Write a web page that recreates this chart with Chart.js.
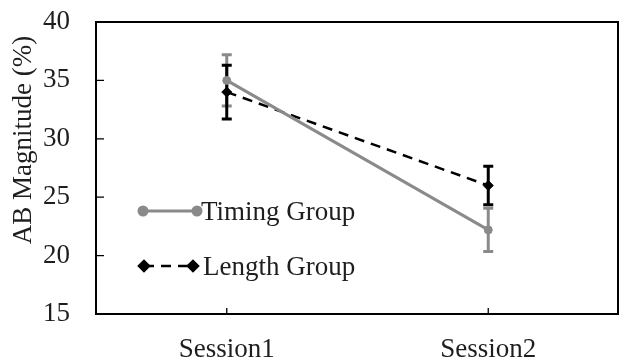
<!DOCTYPE html>
<html>
<head>
<meta charset="utf-8">
<script src="https://cdn.jsdelivr.net/npm/chart.js@4.4.0/dist/chart.umd.min.js"></script>
<style>
  html, body { margin: 0; padding: 0; background: #fff; overflow: hidden; }
  #wrap { width: 619px; height: 361px; position: relative; }
  #c { display: block; }
</style>
</head>
<body>
<div id="wrap"><canvas id="c"></canvas></div>
<script>
// Mean AB magnitude per session with error-bar half-lengths
const sessions = ['Session1', 'Session2'];
const timingMean = [35.0, 22.2];
const timingErr = [2.2, 1.85];
const lengthMean = [34.0, 26.0];
const lengthErr = [2.3, 1.65];
const yTicks = [15, 20, 25, 30, 35, 40];
const seriesNames = ['Timing Group', 'Length Group'];
const axisTitle = 'AB Magnitude (%)';

const FONT = { family: "'Liberation Serif', 'Times New Roman', serif", size: 27 };
const TEXT = '#1e1e1e';
const GRAY = '#8a8a8a';
const BLACK = '#000000';

// Keep the plot area exactly where the layout padding puts it
function noScalePadding(s) {
  s.paddingTop = 0; s.paddingBottom = 0; s.paddingLeft = 0; s.paddingRight = 0;
}

// Vertical error bars with caps, drawn beneath the lines and markers
const errorBars = {
  id: 'errorBars',
  beforeDatasetsDraw(chart) {
    const ctx = chart.ctx;
    const ys = chart.scales.y;
    chart.data.datasets.forEach((ds, di) => {
      const meta = chart.getDatasetMeta(di);
      ctx.save();
      ctx.strokeStyle = ds.borderColor;
      ctx.lineWidth = 3;
      ctx.setLineDash([]);
      meta.data.forEach((pt, i) => {
        const hi = ys.getPixelForValue(ds.data[i] + ds.errors[i]);
        const lo = ys.getPixelForValue(ds.data[i] - ds.errors[i]);
        const x = pt.x;
        ctx.beginPath();
        ctx.moveTo(x, hi); ctx.lineTo(x, lo);
        ctx.moveTo(x - 5, hi); ctx.lineTo(x + 5, hi);
        ctx.moveTo(x - 5, lo); ctx.lineTo(x + 5, lo);
        ctx.stroke();
      });
      ctx.restore();
    });
  }
};

// Closed frame around the plot area and inward-pointing tick marks
const frameAndTicks = {
  id: 'frameAndTicks',
  afterDraw(chart) {
    const { ctx, chartArea: a, scales } = chart;
    ctx.save();
    ctx.strokeStyle = '#000';
    ctx.lineWidth = 2;
    ctx.beginPath();
    ctx.moveTo(a.left, a.top); ctx.lineTo(a.right, a.top);
    ctx.moveTo(a.right - 1, a.top); ctx.lineTo(a.right - 1, a.bottom);
    ctx.stroke();
    ctx.lineWidth = 1.3;
    ctx.beginPath();
    scales.y.ticks.forEach((t, i) => {
      const y = scales.y.getPixelForTick(i);
      ctx.moveTo(a.left, y); ctx.lineTo(a.left + 8, y);
    });
    scales.x.ticks.forEach((t, i) => {
      const x = scales.x.getPixelForTick(i);
      ctx.moveTo(x, a.bottom); ctx.lineTo(x, a.bottom - 6);
    });
    ctx.stroke();
    ctx.restore();
  }
};

// Rotated y-axis title
const yTitle = {
  id: 'yTitle',
  afterDraw(chart) {
    const ctx = chart.ctx;
    ctx.save();
    ctx.translate(24, 140);
    ctx.rotate(-Math.PI / 2);
    ctx.font = `${FONT.size}px ${FONT.family}`;
    ctx.fillStyle = TEXT;
    ctx.textAlign = 'center';
    ctx.textBaseline = 'middle';
    ctx.fillText(axisTitle, 0, 0);
    ctx.restore();
  }
};

// Legend inside the plot: a line sample with a marker at each end
const innerLegend = {
  id: 'innerLegend',
  afterDraw(chart) {
    const ctx = chart.ctx;
    const spots = [
      { x0: 143, x1: 197, y: 211, tx: 201 },
      { x0: 144, x1: 193, y: 266, tx: 203 }
    ];
    chart.data.datasets.forEach((ds, i) => {
      const s = spots[i];
      ctx.save();
      ctx.strokeStyle = ds.borderColor;
      ctx.lineWidth = ds.borderWidth;
      ctx.setLineDash(ds.borderDash || []);
      ctx.beginPath();
      ctx.moveTo(s.x0, s.y); ctx.lineTo(s.x1, s.y);
      ctx.stroke();
      ctx.setLineDash([]);
      const opts = {
        pointStyle: ds.pointStyle, radius: ds.pointRadius, rotation: 0,
        borderWidth: 1
      };
      ctx.fillStyle = ds.pointBackgroundColor;
      ctx.strokeStyle = ds.borderColor;
      Chart.helpers.drawPoint(ctx, opts, s.x0, s.y);
      Chart.helpers.drawPoint(ctx, opts, s.x1, s.y);
      ctx.font = `${FONT.size}px ${FONT.family}`;
      ctx.fillStyle = TEXT;
      ctx.textAlign = 'left';
      ctx.textBaseline = 'middle';
      ctx.fillText(seriesNames[i], s.tx, s.y + 2);
      ctx.restore();
    });
  }
};

new Chart(document.getElementById('c'), {
  type: 'line',
  data: {
    labels: sessions,
    datasets: [
      {
        label: seriesNames[0],
        data: timingMean,
        errors: timingErr,
        borderColor: GRAY,
        backgroundColor: GRAY,
        pointBackgroundColor: GRAY,
        borderWidth: 3,
        pointStyle: 'circle',
        pointRadius: 4,
        pointBorderWidth: 1,
        tension: 0
      },
      {
        label: seriesNames[1],
        data: lengthMean,
        errors: lengthErr,
        borderColor: BLACK,
        backgroundColor: BLACK,
        pointBackgroundColor: BLACK,
        borderWidth: 2.5,
        borderDash: [10, 7],
        pointStyle: 'rectRot',
        pointRadius: 5,
        pointBorderWidth: 1,
        tension: 0
      }
    ]
  },
  options: {
    responsive: true,
    maintainAspectRatio: false,
    animation: false,
    layout: { autoPadding: false, padding: { top: 22, right: 0, bottom: 0, left: 0 } },
    plugins: { legend: { display: false }, tooltip: { enabled: false } },
    scales: {
      x: {
        type: 'category',
        offset: true,
        grid: { display: true, drawOnChartArea: false, drawTicks: false },
        border: { display: true, color: '#000', width: 2 },
        ticks: { color: TEXT, font: FONT, padding: 20, maxRotation: 0 },
        afterFit(s) { s.height = 47; noScalePadding(s); }
      },
      y: {
        min: 15,
        max: 40,
        grid: { display: true, drawOnChartArea: false, drawTicks: false },
        border: { display: true, color: '#000', width: 2 },
        ticks: { color: TEXT, font: FONT, padding: 26 },
        afterBuildTicks(s) { s.ticks = yTicks.map(v => ({ value: v })); },
        afterFit(s) { s.width = 96; noScalePadding(s); }
      }
    }
  },
  plugins: [errorBars, frameAndTicks, yTitle, innerLegend]
});
</script>
</body>
</html>
